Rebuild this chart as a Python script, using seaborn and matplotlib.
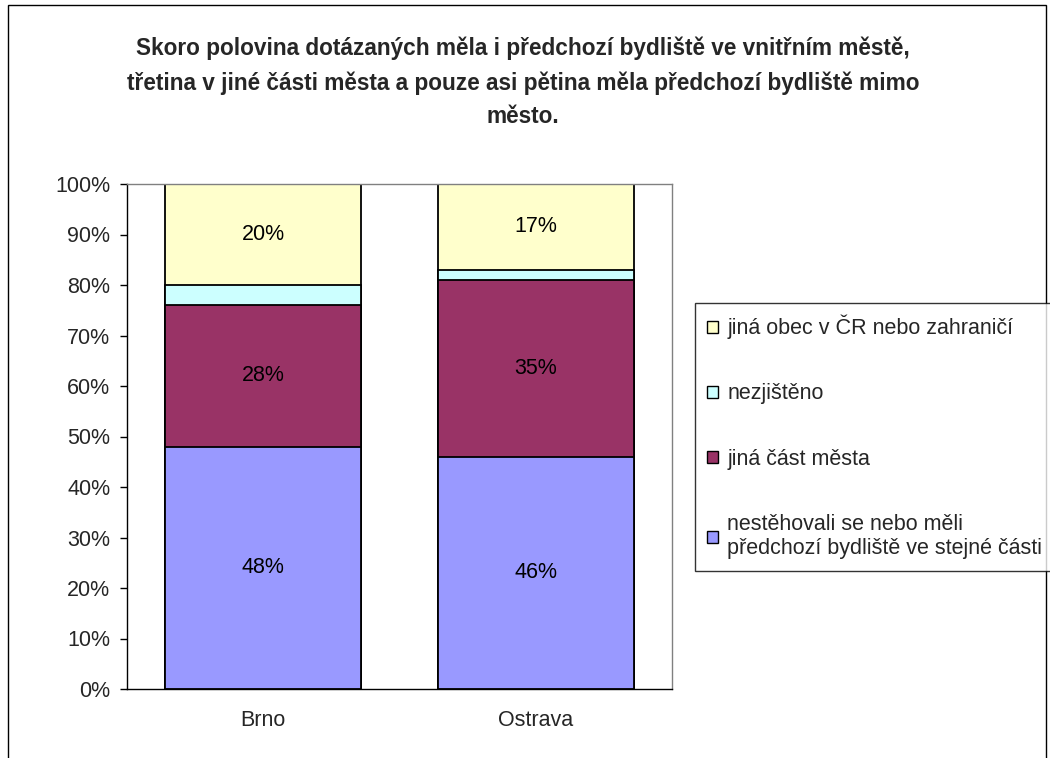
import pandas as pd
import matplotlib.pyplot as plt
import seaborn as sns
from matplotlib.patches import Patch, Rectangle

cities = ["Brno", "Ostrava"]
categories = [
    "nestěhovali se nebo měli\npředchozí bydliště ve stejné části",
    "jiná část města",
    "nezjištěno",
    "jiná obec v ČR nebo zahraničí",
]
brno = [48, 28, 4, 20]
ostrava = [46, 35, 2, 17]
show_label = [True, True, False, True]
colors = ["#9999FF", "#993366", "#CCFFFF", "#FFFFCC"]

title = ("Skoro polovina dotázaných měla i předchozí bydliště ve vnitřním městě,\n"
         "třetina v jiné části města a pouze asi pětina měla předchozí bydliště mimo\n"
         "město.")

# long table with cumulative tops for stacking
rows = []
for city, vals in zip(cities, [brno, ostrava]):
    cum = 0
    for cat, v, lab in zip(categories, vals, show_label):
        rows.append({"město": city, "kategorie": cat, "podíl": v,
                     "spodek": cum, "vrch": cum + v, "popisek": lab})
        cum += v
df = pd.DataFrame(rows)

sns.set_style("white")
plt.rcParams["font.family"] = ["Liberation Sans", "DejaVu Sans"]

fig = plt.figure(figsize=(10.5, 7.58), dpi=100)
W, H = 1050, 758
ax = fig.add_axes([127 / W, 1 - 689 / H, (672 - 127) / W, (689 - 184) / H])

# draw from the top segment down so each bar covers the one above it
for cat, col in reversed(list(zip(categories, colors))):
    sub = df[df["kategorie"] == cat]
    sns.barplot(data=sub, x="město", y="vrch", order=cities, color=col,
                width=0.72, edgecolor="black", linewidth=1.3,
                errorbar=None, saturation=1, ax=ax)

for i, city in enumerate(cities):
    sub = df[df["město"] == city]
    for _, r in sub.iterrows():
        if r["popisek"]:
            ax.text(i, r["spodek"] + r["podíl"] / 2, f"{r['podíl']}%",
                    ha="center", va="center", fontsize=15.5, color="black")

ax.set_ylim(0, 100)
ax.set_xlim(-0.5, 1.5)
ax.set_yticks(range(0, 101, 10))
ax.set_yticklabels([f"{v}%" for v in range(0, 101, 10)], fontsize=15.5)
ax.set_xticks([-0.5, 0.5, 1.5])
ax.set_xticklabels([])
ax.set_xticks(range(len(cities)), minor=True)
ax.set_xticklabels(cities, minor=True, fontsize=15.5)
ax.tick_params(axis="x", which="major", direction="out", length=5, width=1, color="black")
ax.tick_params(axis="x", which="minor", length=0, pad=15)
ax.tick_params(axis="y", direction="out", length=5, width=1, color="black", pad=7, left=True)
ax.set_xlabel("")
ax.set_ylabel("")
for side in ["left", "bottom"]:
    ax.spines[side].set_color("black")
    ax.spines[side].set_linewidth(1)
for side in ["top", "right"]:
    ax.spines[side].set_visible(True)
    ax.spines[side].set_color("#808080")
    ax.spines[side].set_linewidth(1)

fig.text(0.498, 1 - 37 / H, title, ha="center", va="top", fontsize=16.3,
         fontweight="bold", linespacing=1.58)

handles = [Patch(facecolor=c, edgecolor="black", linewidth=1) for c in colors]
leg = fig.legend(handles[::-1], categories[::-1], loc="upper left",
                 bbox_to_anchor=(695 / W, 1 - 303 / H), fontsize=15.5,
                 frameon=True, fancybox=False, edgecolor="black",
                 handlelength=0.5, handleheight=0.5, handletextpad=0.45,
                 labelspacing=2.05, borderpad=0.55, borderaxespad=0)
leg.get_frame().set_linewidth(1)

fig.patches.append(Rectangle((8 / W, -0.1), (1046 - 8) / W, 1.1 - 5 / H,
                             transform=fig.transFigure, fill=False,
                             edgecolor="black", linewidth=1))

fig.savefig("out.png", dpi=100)
